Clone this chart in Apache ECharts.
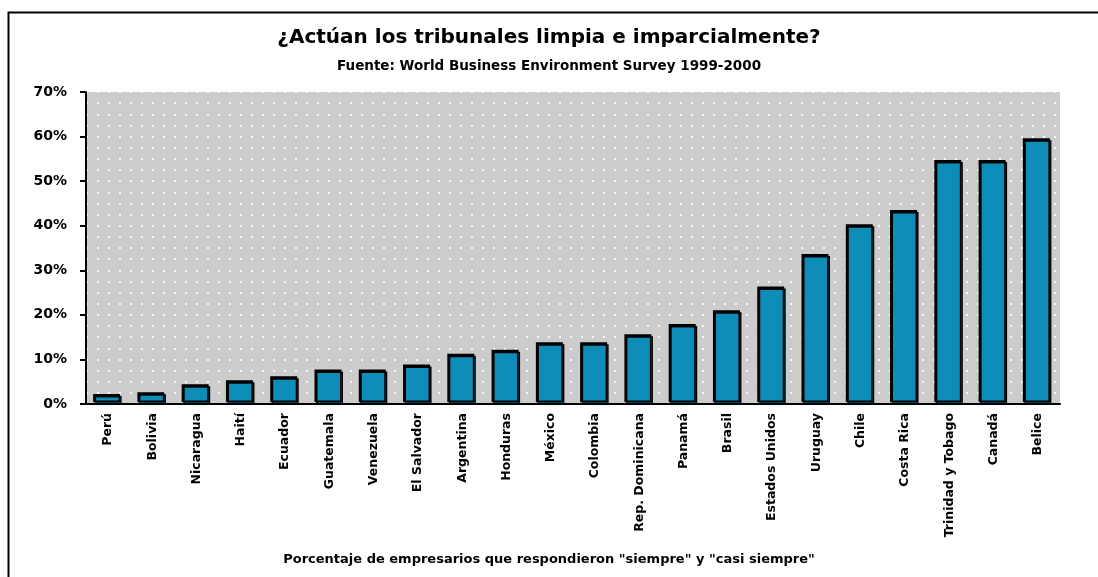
<!DOCTYPE html>
<html>
<head>
<meta charset="utf-8">
<script src="https://cdn.jsdelivr.net/npm/echarts@6/dist/echarts.min.js"></script>
<style>html,body{margin:0;padding:0;background:#fff;}#c{width:1098px;height:577px;}</style>
</head>
<body>
<div id="c"></div>
<script>
const titleText = '¿Actúan los tribunales limpia e imparcialmente?';
const subtitleText = 'Fuente: World Business Environment Survey 1999-2000';
const xAxisTitle = 'Porcentaje de empresarios que respondieron "siempre" y "casi siempre"';
const categories = ['Perú','Bolivia','Nicaragua','Haití','Ecuador','Guatemala','Venezuela','El Salvador','Argentina','Honduras','México','Colombia','Rep. Dominicana','Panamá','Brasil','Estados Unidos','Uruguay','Chile','Costa Rica','Trinidad y Tobago','Canadá','Belice'];
const values = [1.8, 2.2, 4.0, 4.9, 5.8, 7.3, 7.3, 8.4, 10.8, 11.7, 13.4, 13.4, 15.2, 17.5, 20.6, 25.9, 33.2, 39.9, 43.1, 54.3, 54.3, 59.2];
const yTicks = [0, 10, 20, 30, 40, 50, 60, 70];

const chart = echarts.init(document.getElementById('c'));
const F = 'DejaVu Sans';
chart.setOption({
  animation: false,
  backgroundColor: '#fff',
  graphic: [{
    type: 'rect', left: 6, top: 10, shape: {width: 1100, height: 600},
    style: {fill: 'none', stroke: '#000', lineWidth: 2}, z: 100
  }],
  title: [{
    text: titleText, left: 'center', top: 23,
    textStyle: {fontFamily: F, fontWeight: 'bold', fontSize: 20, color: '#000'}
  }, {
    text: subtitleText, left: 'center', top: 54,
    textStyle: {fontFamily: F, fontWeight: 'bold', fontSize: 13.5, color: '#000'}
  }, {
    text: xAxisTitle, left: 'center', top: 548,
    textStyle: {fontFamily: F, fontWeight: 'bold', fontSize: 13, color: '#000'}
  }],
  grid: {
    left: 86, right: 38, top: 92, bottom: 173,
    show: true, backgroundColor: '#cccccc', borderWidth: 0
  },
  xAxis: {
    type: 'category', data: categories,
    axisLine: {lineStyle: {color: '#000', width: 2}},
    axisTick: {show: false},
    axisLabel: {
      rotate: 90, interval: 0, margin: 9,
      fontFamily: F, fontWeight: 'bold', fontSize: 12.5, color: '#000'
    }
  },
  yAxis: {
    type: 'value', min: yTicks[0], max: yTicks[yTicks.length - 1], interval: 10,
    axisLine: {show: true, lineStyle: {color: '#000', width: 2}},
    axisTick: {show: true, length: 6, lineStyle: {color: '#000', width: 2}},
    axisLabel: {
      formatter: '{value}%', margin: 19,
      fontFamily: F, fontWeight: 'bold', fontSize: 14, color: '#000'
    },
    splitLine: {show: true, lineStyle: {color: '#ffffff', width: 2, type: [2, 9], opacity: 0.9}},
    minorTick: {show: false, splitNumber: 4},
    minorSplitLine: {show: true, lineStyle: {color: '#ffffff', width: 2, type: [2, 9], opacity: 0.85}}
  },
  series: [{
    type: 'bar', data: values, barWidth: 27,
    itemStyle: {
      color: '#0e8db8', borderColor: '#000', borderWidth: 1.5,
      shadowColor: '#000', shadowOffsetX: -1.5, shadowOffsetY: -2, shadowBlur: 0
    }
  }]
});
</script>
</body>
</html>
